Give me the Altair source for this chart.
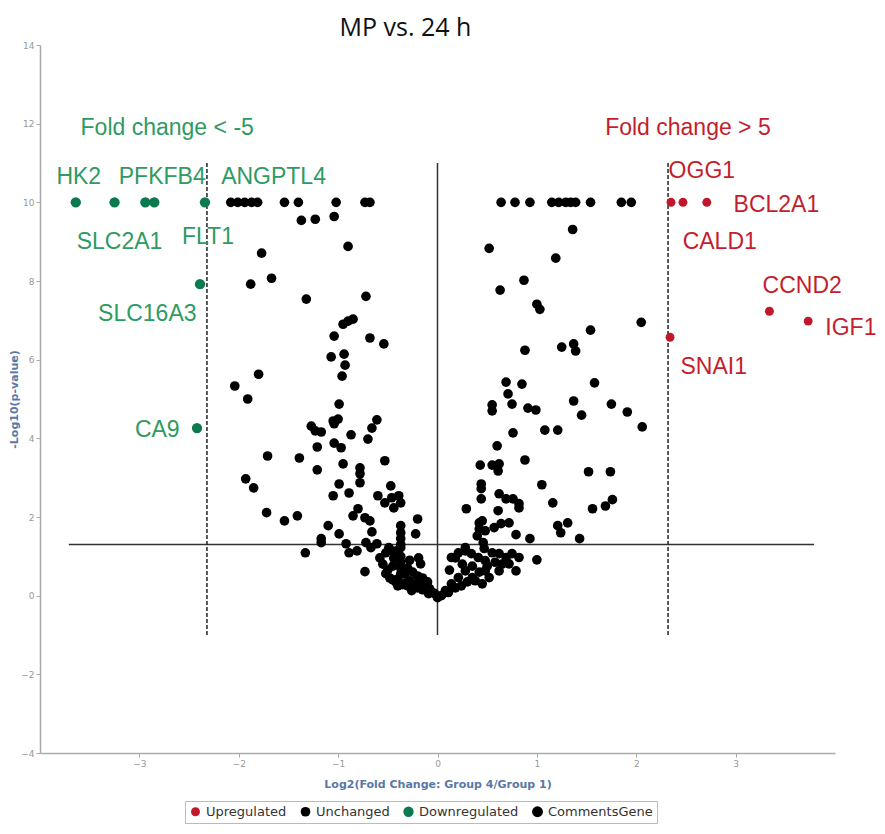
import altair as alt
import pandas as pd

# ---------------- data ----------------
up_x = [2.35, 2.47, 2.71, 3.34, 3.73, 2.34]
up_y = [10, 10, 10, 7.23, 6.98, 6.57]

down_x = [-3.64, -3.25, -2.94, -2.85, -2.34, -2.39, -2.42]
down_y = [10, 10, 10, 10, 10, 7.92, 4.26]

unch_x = [
    -2.08, -2.01, -1.94, -1.87, -1.81, -1.54, -1.40, -1.02, -0.73, -0.68,
    0.64, 0.78, 0.93, 1.15, 1.22, 1.29, 1.34, 1.39, 1.54, 1.85, 1.95,
    -1.37, -1.23, -1.04, -0.90, -1.77, -1.88, -1.67, -1.32, -0.72, -0.95,
    -0.90, -0.85, -1.04, -0.68, -0.54, -1.07, -0.94, -0.93, -0.96, -1.80,
    -2.04, -1.91, -0.99, -1.05, -1.00, -1.04, -1.27, -1.23, -1.17, -0.87,
    -0.61, -0.66, -0.70, -1.21, -1.04, -0.97, -1.71, -1.39, -0.95, -1.21,
    -0.78, -0.78, -0.78, -0.53, -1.93, -1.85, -0.99, -1.05, -0.89, -0.47,
    -0.60, -0.53, -0.46, -0.39, -0.37, -0.44, -1.72, -1.54, -1.41, -0.80,
    -0.85, -0.73, -0.68, -1.10, -0.99, -0.66, -0.20, -0.22, -0.37, -1.17,
    -1.17, -0.92, -0.89, -0.81, -0.72, -0.67, -0.61, -1.33, -0.73, -0.58,
    -0.52, -0.46, -0.41, -0.37, -0.19, -0.17,
    -0.37, -0.37, -0.37, -0.37, -0.37, -0.37, -0.37,
    -0.52, -0.48, -0.45, -0.42, -0.40, -0.38, -0.35, -0.32, -0.30, -0.28,
    -0.25, -0.22, -0.20, -0.18, -0.15, -0.12, -0.10, -0.08, -0.05, -0.03,
    -0.20, -0.25, -0.30, -0.15, -0.10, -0.45, -0.55, -0.50, -0.49, -0.26,
    -0.09, 0.00, -0.33, -0.28, -0.40, -0.44,
    1.36, 0.52, 1.19, 0.87, 0.63, 1.00, 1.03, 2.05, 1.54, 1.25,
    1.37, 1.39, 0.88, 0.69, 0.85, 0.71, 1.58, 0.55, 0.55, 0.75,
    0.91, 0.99, 1.37, 1.45, 1.75, 1.91, 2.06, 0.76, 1.08, 1.21,
    0.60, 0.88, 0.43, 0.55, 0.62, 0.61, 1.52, 1.74, 0.44, 0.44,
    0.44, 1.05, 0.62, 0.69, 0.76, 0.82, 0.82, 1.16, 1.76, 1.69,
    1.56, 0.29, 0.61, 0.42, 0.42, 0.40, 0.48, 0.57, 0.64, 0.72,
    1.21, 1.31, 1.24, 0.79, 0.93, 1.43, 1.00,
    0.14, 0.21, 0.28, 0.34, 0.41, 0.48, 0.55, 0.62, 0.69, 0.75,
    0.82, 0.72, 0.79, 0.62, 0.52, 0.45, 0.35, 0.28, 0.21, 0.14,
    0.08, 0.04, 0.35, 0.42, 0.50, 0.58, 0.65, 0.25, 0.30, 0.18,
    0.12, 0.11, 0.24, 0.38, 0.48, 0.18, 0.28, 0.45, 0.46, 0.47,
]
unch_y = [
    10, 10, 10, 10, 10, 10, 10, 10, 10, 10,
    10, 10, 10, 10, 10, 10, 10, 10, 10, 10, 10,
    9.54, 9.57, 9.64, 8.88, 8.71, 7.92, 8.07, 7.54, 7.61, 6.90,
    6.98, 7.03, 6.60, 6.55, 6.40, 6.07, 6.14, 5.86, 5.58, 5.63,
    5.33, 5.00, 4.87, 4.44, 4.49, 4.37, 4.31, 4.19, 4.16, 4.09,
    4.47, 4.26, 3.98, 3.78, 3.88, 3.76, 3.55, 3.50, 3.35, 3.20,
    3.25, 3.10, 2.87, 3.43, 2.97, 2.74, 2.84, 2.54, 2.61, 2.79,
    2.54, 2.36, 2.49, 2.54, 2.36, 2.23, 2.11, 1.90, 2.03, 2.21,
    2.03, 1.98, 1.90, 1.78, 1.57, 1.62, 1.95, 1.57, 1.78, 1.45,
    1.35, 1.32, 1.09, 1.14, 1.35, 1.22, 1.32, 1.09, 0.61, 0.96,
    1.09, 1.14, 1.14, 1.22, 0.96, 0.81,
    1.60, 1.45, 1.30, 1.00, 0.85, 0.70, 0.55,
    0.56, 0.45, 0.40, 0.35, 0.42, 0.30, 0.28, 0.32, 0.25, 0.38,
    0.22, 0.28, 0.20, 0.35, 0.15, 0.22, 0.12, 0.18, 0.08, 0.05,
    0.50, 0.60, 0.70, 0.45, 0.35, 0.75, 0.80, 0.65, 1.22, 0.13,
    0.05, -0.05, 0.55, 0.90, 0.25, 0.95,
    9.31, 8.83, 8.58, 8.02, 7.77, 7.41, 7.28, 6.95, 6.75, 6.32,
    6.40, 6.22, 6.24, 5.43, 5.38, 5.13, 5.41, 4.85, 4.70, 4.87,
    4.77, 4.72, 4.95, 4.59, 4.87, 4.67, 4.29, 4.14, 4.21, 4.21,
    3.81, 3.45, 3.32, 3.32, 3.35, 3.17, 3.15, 3.15, 2.84, 2.72,
    2.46, 2.82, 2.59, 2.46, 2.46, 2.34, 2.23, 2.36, 2.44, 2.28,
    2.21, 2.21, 2.16, 1.85, 1.70, 1.52, 1.65, 1.73, 1.83, 1.85,
    1.78, 1.85, 1.60, 1.55, 1.45, 1.45, 0.91,
    0.97, 1.09, 1.14, 1.07, 0.97, 0.89, 1.09, 1.07, 0.97, 1.07,
    0.97, 0.81, 0.63, 0.63, 0.46, 0.30, 0.46, 0.63, 0.46, 0.30,
    0.13, 0.00, 0.75, 0.60, 0.75, 0.85, 0.80, 0.80, 0.35, 0.20,
    0.65, 0.08, 0.25, 0.38, 0.63, 0.96, 1.22, 1.90, 1.35, 1.20,
]

categories = ["Upregulated", "Unchanged", "Downregulated", "CommentsGene"]
cat_colors = ["#c0172b", "#000000", "#0c7a4e", "#000000"]

label_text = ["Fold change < -5", "HK2", "PFKFB4", "ANGPTL4", "SLC2A1", "FLT1",
              "SLC16A3", "CA9",
              "Fold change > 5", "OGG1", "BCL2A1", "CALD1", "CCND2", "IGF1", "SNAI1"]
label_x = [-2.72, -3.61, -2.77, -1.65, -3.20, -2.31, -2.92, -2.82,
           2.52, 2.66, 3.41, 2.84, 3.67, 4.16, 2.78]
label_y = [11.88, 10.65, 10.65, 10.65, 8.98, 9.11, 7.16, 4.21,
           11.90, 10.79, 9.92, 8.98, 7.87, 6.80, 5.81]
label_side = ["down"] * 8 + ["up"] * 7

fc_threshold = 2.32      # log2(5)
p_threshold = 1.30       # -log10(0.05)

# ---------------- tables ----------------
pts = pd.DataFrame({
    "x": up_x + unch_x + down_x,
    "y": up_y + unch_y + down_y,
    "cat": ["Upregulated"] * len(up_x) + ["Unchanged"] * len(unch_x) + ["Downregulated"] * len(down_x),
})
labels = pd.DataFrame({"t": label_text, "x": label_x, "y": label_y,
                       "c": ["#2f9a62" if s == "down" else "#c41e2e" for s in label_side]})

solid = pd.DataFrame({"x": [0, -3.71], "x2": [0, 3.79], "y": [-1, p_threshold], "y2": [11, p_threshold]})
dashed = pd.DataFrame({"x": [-fc_threshold, fc_threshold], "y": [-1, -1], "y2": [11, 11]})

xs = alt.Scale(domain=[-4, 4], nice=False, zero=False)
ys = alt.Scale(domain=[-4, 14], nice=False, zero=False)

axis_common = dict(grid=False, domainColor="#aaaaaa", domainWidth=1.5, tickColor="#aaaaaa",
                   tickSize=4, labelColor="#999999", labelFontSize=9, labelFont="DejaVu Sans",
                   labelPadding=2, format="~g",
                   titleColor="#5a78a6", titleFont="DejaVu Sans", titleFontSize=11,
                   titleFontWeight="bold")

x_enc = alt.X("x:Q", scale=xs, axis=alt.Axis(values=[-3, -2, -1, 0, 1, 2, 3],
                                             title="Log2(Fold Change: Group 4/Group 1)",
                                             titlePadding=10, **axis_common))
y_enc = alt.Y("y:Q", scale=ys, axis=alt.Axis(values=list(range(-4, 15, 2)),
                                             title="-Log10(p-value)", titlePadding=1,
                                             **axis_common))

points = alt.Chart(pts).mark_circle(opacity=1).encode(
    x=x_enc, y=y_enc,
    color=alt.Color("cat:N", scale=alt.Scale(domain=categories, range=cat_colors),
                    legend=alt.Legend(title=None, orient="none", legendX=145, legendY=756,
                                      direction="horizontal", columns=4, symbolType="circle",
                                      symbolSize=80, labelFontSize=13, labelFont="DejaVu Sans",
                                      labelColor="#333333", strokeColor="#bbbbbb", padding=4,
                                      columnPadding=12, labelOffset=4)),
    size=alt.Size("cat:N", scale=alt.Scale(domain=categories, range=[80, 120, 85, 120]), legend=None),
)

solid_rules = alt.Chart(solid).mark_rule(color="#333333", strokeWidth=1.5).encode(
    x="x:Q", x2="x2:Q", y="y:Q", y2="y2:Q")
dashed_rules = alt.Chart(dashed).mark_rule(color="#222222", strokeWidth=1.5, strokeDash=[4, 2]).encode(
    x="x:Q", y="y:Q", y2="y2:Q")

texts = alt.Chart(labels).mark_text(font="Liberation Sans", fontSize=23, align="center",
                                    baseline="middle").encode(
    x="x:Q", y="y:Q", text="t:N", color=alt.Color("c:N", scale=None))

chart = alt.layer(solid_rules, dashed_rules, points, texts).properties(
    width=795, height=708,
    title=alt.TitleParams("MP vs. 24 h", font="Open Sans", fontSize=25, fontWeight="normal",
                          color="#111111", anchor="middle", dx=-32, offset=0),
    autosize=alt.AutoSizeParams(type="none"),
    padding={"left": 32, "top": 37, "right": 42, "bottom": 73},
).configure_view(stroke=None)

chart.save("out.html", embed_options={"renderer": "svg", "actions": False})
